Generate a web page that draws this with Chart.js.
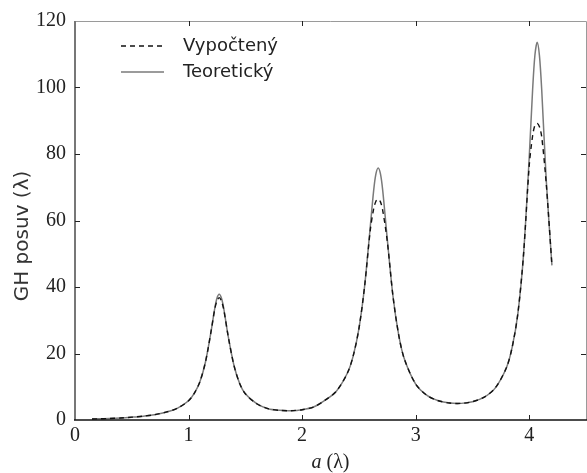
<!DOCTYPE html>
<html>
<head>
<meta charset="utf-8">
<script src="https://cdn.jsdelivr.net/npm/chart.js@4/dist/chart.umd.min.js"></script>
<style>
  html, body { margin: 0; padding: 0; background: #fff; }
  #wrap { width: 587px; height: 473px; }
</style>
</head>
<body>
<div id="wrap"><canvas id="c" width="587" height="473"></canvas></div>
<script>
// a (λ)
const aValues = [0.15, 0.2, 0.3, 0.4, 0.5, 0.6, 0.7, 0.8, 0.9, 1.0, 1.05, 1.1, 1.15, 1.2, 1.23, 1.25, 1.27, 1.29, 1.31, 1.35,
  1.4, 1.45, 1.5, 1.6, 1.7, 1.8, 1.9, 2.0, 2.1, 2.2, 2.3, 2.4, 2.45, 2.5, 2.55, 2.6, 2.63, 2.65, 2.67, 2.69,
  2.71, 2.75, 2.8, 2.85, 2.9, 3.0, 3.1, 3.2, 3.3, 3.4, 3.5, 3.6, 3.7, 3.8, 3.85, 3.9, 3.95, 4.0, 4.03, 4.05,
  4.07, 4.09, 4.11, 4.15, 4.2];
// GH posuv (λ) - teoretický
const teoretickyValues = [0.3, 0.35, 0.45, 0.6, 0.85, 1.15, 1.6, 2.35, 3.5, 5.8, 8.0, 11.5, 17.6, 27.0, 33.4, 36.6, 37.8, 36.6, 33.5, 25.0,
  16.4, 11.0, 7.9, 4.9, 3.4, 2.9, 2.8, 3.1, 3.9, 5.9, 8.6, 14.2, 19.3, 27.4, 40.1, 58.1, 69.0, 74.0, 75.8, 74.0,
  69.0, 54.4, 37.3, 25.7, 18.4, 10.8, 7.4, 5.8, 5.1, 5.0, 5.5, 6.8, 9.6, 15.8, 21.9, 32.0, 49.8, 79.0, 99.4, 109.7,
  113.6, 109.6, 99.3, 72.1, 46.5];
// GH posuv (λ) - vypočtený
const vypocetenyValues = [0.3, 0.35, 0.45, 0.6, 0.85, 1.15, 1.6, 2.35, 3.5, 5.8, 8.0, 11.5, 17.6, 27.0, 33.2, 35.8, 36.8, 35.8, 33.2, 25.0,
  16.4, 11.0, 7.9, 4.9, 3.4, 2.9, 2.8, 3.1, 3.9, 5.9, 8.6, 14.2, 19.3, 27.4, 40.1, 57.0, 63.5, 65.8, 66.4, 65.6,
  63.0, 53.8, 37.3, 25.7, 18.4, 10.8, 7.4, 5.8, 5.1, 5.0, 5.5, 6.8, 9.6, 15.8, 21.9, 32.0, 49.8, 76.5, 85.5, 88.6,
  89.2, 88.2, 85.2, 71.0, 46.5];

const seriesNames = ['Vypočtený', 'Teoretický'];
const xTicks = [0, 1, 2, 3, 4];
const yTicks = [0, 20, 40, 60, 80, 100, 120];

const toPoints = ys => aValues.map((x, i) => ({ x, y: ys[i] }));

// frame, inward ticks, legend and axis titles
const framePlugin = {
  id: 'frame',
  afterDraw(chart) {
    const { ctx, chartArea: ca, scales } = chart;
    const { left, right, top, bottom } = ca;
    ctx.save();
    // top + right border (light)
    ctx.strokeStyle = '#9a9a9a'; ctx.lineWidth = 1;
    ctx.beginPath();
    ctx.moveTo(left, top + 0.5); ctx.lineTo(right + 0.5, top + 0.5); ctx.lineTo(right + 0.5, bottom);
    ctx.stroke();
    // left axis
    ctx.strokeStyle = '#777'; ctx.lineWidth = 2;
    ctx.beginPath(); ctx.moveTo(left, top); ctx.lineTo(left, bottom); ctx.stroke();
    // bottom axis
    ctx.strokeStyle = '#111'; ctx.lineWidth = 1.6;
    ctx.beginPath(); ctx.moveTo(left - 1, bottom); ctx.lineTo(right + 1, bottom); ctx.stroke();

    // inward ticks
    ctx.strokeStyle = '#222'; ctx.lineWidth = 1;
    const tl = 5;
    xTicks.slice(1).forEach(v => {
      const px = Math.round(scales.x.getPixelForValue(v)) + 0.5;
      ctx.beginPath();
      ctx.moveTo(px, bottom); ctx.lineTo(px, bottom - tl);
      ctx.moveTo(px, top); ctx.lineTo(px, top + tl);
      ctx.stroke();
    });
    yTicks.slice(1, -1).forEach(v => {
      const py = Math.round(scales.y.getPixelForValue(v)) + 0.5;
      ctx.beginPath();
      ctx.moveTo(left, py); ctx.lineTo(left + tl, py);
      ctx.moveTo(right, py); ctx.lineTo(right - tl, py);
      ctx.stroke();
    });

    // legend
    const ds = chart.data.datasets;
    const legY = [46, 72];
    ds.forEach((d, i) => {
      ctx.strokeStyle = d.borderColor; ctx.lineWidth = d.borderWidth;
      ctx.setLineDash(d.borderDash || []);
      ctx.beginPath(); ctx.moveTo(121, legY[i]); ctx.lineTo(164, legY[i]); ctx.stroke();
      ctx.setLineDash([]);
      ctx.fillStyle = '#222';
      ctx.font = '18px "DejaVu Sans"';
      ctx.textAlign = 'left'; ctx.textBaseline = 'middle';
      ctx.fillText(d.label, 183, legY[i]);
    });

    // x title: a (λ)
    ctx.fillStyle = '#222'; ctx.textBaseline = 'alphabetic';
    const cx = (left + right) / 2;
    ctx.font = 'italic 20px "Liberation Serif"';
    const wa = ctx.measureText('a').width;
    ctx.font = '20px "Liberation Serif"';
    const wr = ctx.measureText(' (λ)').width;
    const x0 = cx - (wa + wr) / 2;
    ctx.textAlign = 'left';
    ctx.font = 'italic 20px "Liberation Serif"';
    ctx.fillText('a', x0, 468);
    ctx.font = '20px "Liberation Serif"';
    ctx.fillText(' (λ)', x0 + wa, 468);

    // y title
    ctx.translate(23, 236);
    ctx.rotate(-Math.PI / 2);
    ctx.font = '20px "DejaVu Sans"';
    ctx.fillStyle = '#333';
    ctx.textAlign = 'center'; ctx.textBaseline = 'middle';
    ctx.fillText('GH posuv (λ)', 0, 0);
    ctx.restore();
  }
};

new Chart(document.getElementById('c').getContext('2d'), {
  type: 'line',
  data: {
    datasets: [
      { label: seriesNames[0], data: toPoints(vypocetenyValues), borderColor: '#111', borderWidth: 1.4,
        borderDash: [5, 4], pointRadius: 0, fill: false, tension: 0.3 },
      { label: seriesNames[1], data: toPoints(teoretickyValues), borderColor: '#7a7a7a', borderWidth: 1.5,
        pointRadius: 0, fill: false, tension: 0.3 },
    ],
  },
  options: {
    responsive: false, animation: false, devicePixelRatio: 1,
    layout: { padding: { top: 21, right: 1, left: 0, bottom: 0 } },
    plugins: { legend: { display: false }, tooltip: { enabled: false } },
    scales: {
      x: {
        type: 'linear', min: 0, max: 4.5,
        afterFit: s => { s.height = 53; },
        afterBuildTicks: s => { s.ticks = xTicks.map(v => ({ value: v })); },
        grid: { display: false, drawTicks: false }, border: { display: false },
        ticks: { color: '#222', padding: 4, font: { family: 'Liberation Serif', size: 20 } },
      },
      y: {
        min: 0, max: 120,
        afterFit: s => { s.width = 75; },
        afterBuildTicks: s => { s.ticks = yTicks.map(v => ({ value: v })); },
        grid: { display: false, drawTicks: false }, border: { display: false },
        ticks: { color: '#222', padding: 9, font: { family: 'Liberation Serif', size: 20 } },
      },
    },
  },
  plugins: [framePlugin],
});
</script>
</body>
</html>
